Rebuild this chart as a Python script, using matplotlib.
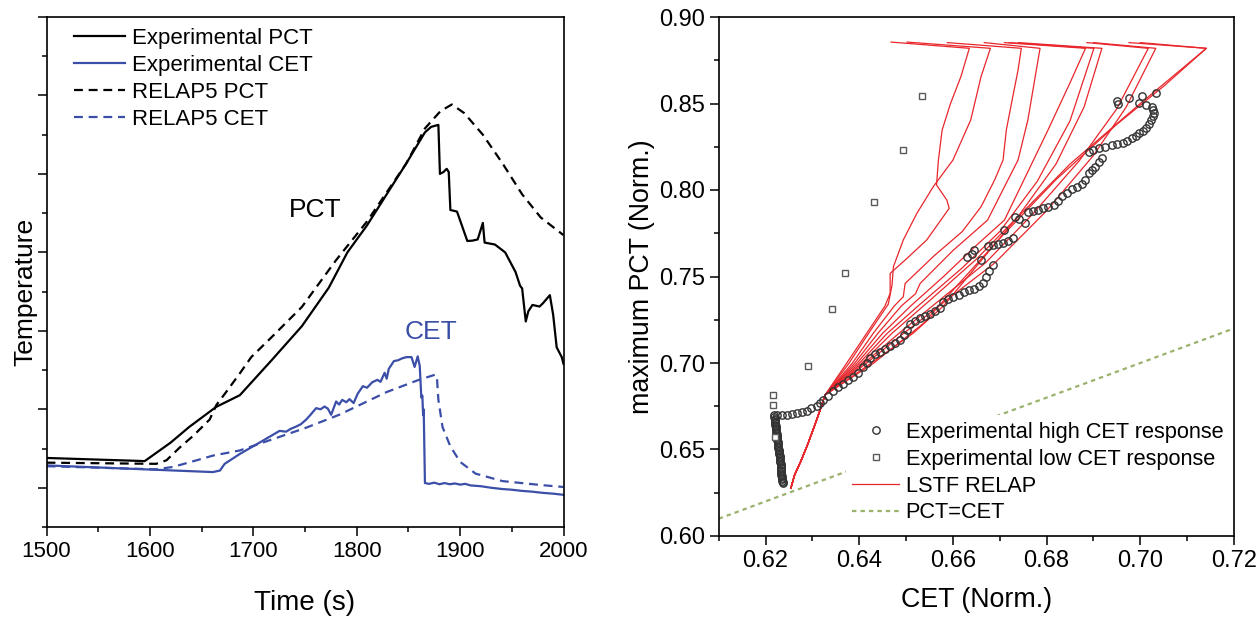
import matplotlib
matplotlib.use("Agg")
import matplotlib.pyplot as plt
from matplotlib.ticker import MultipleLocator, NullFormatter

plt.rcParams['font.family'] = ['Liberation Sans', 'DejaVu Sans']

# ---------------- Left panel data (time in s, temperature in arbitrary units) ----------------
exp_pct_t = [1500, 1595, 1620, 1638, 1664, 1687, 1717, 1747, 1773, 1791, 1810, 1829, 1848, 1866, 1872, 1879,
             1880.5, 1884, 1887, 1889, 1890.6, 1894, 1897, 1907, 1912, 1917, 1922, 1923.7, 1933.7, 1943.6,
             1953.6, 1958, 1960, 1963.5, 1966, 1970, 1976.8, 1980, 1986.8, 1990, 1993.4, 1998.3, 2000]
exp_pct_v = [1.76, 1.68, 2.15, 2.55, 3.06, 3.36, 4.23, 5.12, 6.10, 7.00, 7.69, 8.48, 9.27, 10.06, 10.20, 10.25,
             9.00, 9.05, 9.13, 9.05, 8.08, 8.06, 8.04, 7.29, 7.30, 7.33, 7.75, 7.25, 7.20, 7.00,
             6.50, 6.15, 6.08, 5.24, 5.50, 5.66, 5.62, 5.70, 5.91, 5.41, 4.58, 4.33, 4.16]

exp_cet_t = [1500, 1661, 1667.8, 1672.3, 1686.8, 1706, 1725.4, 1731.8, 1736, 1741.4, 1746, 1751.2, 1755, 1760.8,
             1765, 1768.9, 1772, 1775.3, 1780.1, 1783, 1786, 1790, 1793, 1797, 1801, 1806, 1810, 1815, 1820,
             1823, 1827, 1829, 1831, 1836, 1840, 1844, 1848, 1853, 1856, 1859,
             1861, 1862.5, 1863.5, 1864.2, 1864.8, 1866, 1870, 1875, 1880, 1885, 1890, 1895, 1900, 1905, 1910,
             1920, 1930, 1940, 1950, 1960, 1970, 1980, 1990, 2000]
exp_cet_v = [1.57, 1.40, 1.44, 1.61, 1.86, 2.15, 2.45, 2.43, 2.50, 2.56, 2.62, 2.74, 2.85, 3.03,
             3.00, 3.07, 3.02, 2.86, 3.20, 3.12, 3.24, 3.18, 3.26, 3.16, 3.40, 3.59, 3.55, 3.69, 3.75,
             3.70, 3.93, 3.78, 4.03, 4.23, 4.25, 4.30, 4.33, 4.33, 4.08, 4.35,
             4.10, 3.30, 3.35, 2.85, 3.00, 1.12, 1.10, 1.13, 1.09, 1.12, 1.09, 1.11, 1.08, 1.10, 1.06,
             1.04, 1.00, 0.97, 0.95, 0.92, 0.90, 0.87, 0.85, 0.82]

rel_pct_t = [1500, 1606, 1616, 1629, 1641.7, 1657.8, 1664.3, 1674, 1686.8, 1698, 1717, 1747, 1780, 1810,
             1848, 1866, 1881, 1892, 1904, 1922, 1941, 1960, 1978, 2000]
rel_pct_v = [1.64, 1.61, 1.70, 2.03, 2.32, 2.74, 3.11, 3.45, 3.91, 4.33, 4.82, 5.61, 6.80, 7.79,
             9.27, 10.16, 10.60, 10.77, 10.55, 10.00, 9.27, 8.48, 7.89, 7.44]

rel_cet_t = [1500, 1606, 1622, 1638.5, 1661, 1686.8, 1719, 1751, 1783, 1829, 1859, 1875.6, 1877.5, 1879,
             1883, 1890.5, 1900, 1915, 1941, 1978, 2000]
rel_cet_v = [1.55, 1.47, 1.53, 1.65, 1.82, 1.95, 2.24, 2.53, 2.86, 3.44, 3.74, 3.88, 3.85, 3.24,
             2.55, 2.06, 1.66, 1.36, 1.17, 1.07, 1.02]

left_xticks = [1500, 1600, 1700, 1800, 1900, 2000]

# ---------------- Right panel data (normalised) ----------------
high_cet_x = [0.6219, 0.6219, 0.6220, 0.6220, 0.6221, 0.6221, 0.6221, 0.6222, 0.6222, 0.6223, 0.6223, 0.6223,
              0.6224, 0.6224, 0.6225, 0.6225, 0.6225, 0.6226, 0.6226, 0.6227, 0.6227, 0.6227, 0.6228, 0.6228,
              0.6229, 0.6229, 0.6230, 0.6230, 0.6230, 0.6231, 0.6231, 0.6232, 0.6232, 0.6232, 0.6233, 0.6233,
              0.6234, 0.6234, 0.6234, 0.6235, 0.6235, 0.6236, 0.6236, 0.6237, 0.6237,
              0.6224, 0.6235, 0.6245, 0.6256, 0.6267, 0.6278, 0.6288, 0.6298, 0.6309, 0.6316, 0.6323, 0.6333,
              0.6345, 0.6355, 0.6366, 0.6377, 0.6387, 0.6398, 0.6409, 0.6416, 0.6423, 0.6433, 0.6444, 0.6455,
              0.6466, 0.6477, 0.6487, 0.6495, 0.6501, 0.6508, 0.6519, 0.6530, 0.6541, 0.6551, 0.6562, 0.6572,
              0.6579, 0.6590, 0.6601, 0.6612, 0.6623, 0.6634, 0.6645, 0.6656, 0.6665, 0.6671, 0.6678, 0.6685,
              0.6631, 0.6646, 0.6660, 0.6640,
              0.6674, 0.6686, 0.6696, 0.6707, 0.6717, 0.6728,
              0.6710, 0.6732, 0.6753, 0.6742,
              0.6760, 0.6771, 0.6782, 0.6793, 0.6804, 0.6815, 0.6825, 0.6832, 0.6843, 0.6854, 0.6865, 0.6875,
              0.6883, 0.6890, 0.6897, 0.6904, 0.6911, 0.6918,
              0.6890, 0.6900, 0.6911, 0.6925, 0.6940, 0.6951, 0.6962, 0.6972, 0.6983, 0.6990, 0.6997, 0.7005,
              0.7012, 0.7018, 0.7023, 0.7027, 0.7030, 0.7028, 0.7026, 0.7012, 0.6997,
              0.7004, 0.6976, 0.6951, 0.6952, 0.7033]
high_cet_y = [0.6697, 0.6688, 0.6679, 0.6670, 0.6661, 0.6652, 0.6643, 0.6634, 0.6625, 0.6616, 0.6607, 0.6598,
              0.6589, 0.6580, 0.6571, 0.6562, 0.6553, 0.6544, 0.6535, 0.6526, 0.6517, 0.6508, 0.6499, 0.6490,
              0.6481, 0.6472, 0.6463, 0.6454, 0.6445, 0.6436, 0.6427, 0.6418, 0.6409, 0.6400, 0.6391, 0.6382,
              0.6373, 0.6364, 0.6355, 0.6346, 0.6337, 0.6328, 0.6319, 0.6313, 0.6308,
              0.6697, 0.6699, 0.6700, 0.6705, 0.6712, 0.6718, 0.6725, 0.6737, 0.6751, 0.6768, 0.6786, 0.6812,
              0.6840, 0.6860, 0.6880, 0.6900, 0.6920, 0.6945, 0.6975, 0.7000, 0.7030, 0.7050, 0.7065, 0.7080,
              0.7098, 0.7115, 0.7135, 0.7160, 0.7190, 0.7225, 0.7245, 0.7258, 0.7270, 0.7285, 0.7300, 0.7320,
              0.7350, 0.7370, 0.7383, 0.7395, 0.7410, 0.7420, 0.7430, 0.7445, 0.7465, 0.7495, 0.7530, 0.7565,
              0.7615, 0.7653, 0.7595, 0.7630,
              0.7676, 0.7680, 0.7685, 0.7695, 0.7705, 0.7720,
              0.7769, 0.7846, 0.7807, 0.7830,
              0.7875, 0.7880, 0.7886, 0.7895, 0.7903, 0.7915, 0.7935, 0.7965, 0.7985, 0.8005, 0.8020, 0.8032,
              0.8058, 0.8096, 0.8115, 0.8135, 0.8160, 0.8183,
              0.8221, 0.8230, 0.8240, 0.8250, 0.8260, 0.8265, 0.8270, 0.8285, 0.8298, 0.8312, 0.8327, 0.8342,
              0.8356, 0.8380, 0.8405, 0.8425, 0.8443, 0.8462, 0.8481, 0.8492, 0.8501,
              0.8543, 0.8530, 0.8516, 0.8500, 0.8559]

low_cet_x = [0.6216, 0.6216, 0.6221, 0.6290, 0.6342, 0.6370, 0.6431, 0.6494, 0.6534]
low_cet_y = [0.6816, 0.6760, 0.6574, 0.6980, 0.7313, 0.7523, 0.7929, 0.8234, 0.8542]

# Common lower bundle of the RELAP5 (LSTF) curves
relap_base_x = [0.6254, 0.6262, 0.6275, 0.6290, 0.6305, 0.6318, 0.6327]
relap_base_y = [0.6276, 0.6353, 0.6430, 0.6530, 0.6640, 0.6740, 0.6815]

# Upper (fanned-out) part of each RELAP5 curve
relap_x = [
    [0.6373, 0.6416, 0.6455, 0.6466, 0.6466, 0.6500, 0.6544, 0.6592, 0.6587, 0.6565, 0.6569, 0.6577, 0.6595, 0.6617, 0.6635, 0.6468],
    [0.6378, 0.6420, 0.6462, 0.6470, 0.6473, 0.6494, 0.6523, 0.6558, 0.6600, 0.6638, 0.6660, 0.6680, 0.6502],
    [0.6385, 0.6430, 0.6475, 0.6494, 0.6498, 0.6560, 0.6620, 0.6660, 0.6689, 0.6707, 0.6714, 0.6725, 0.6739, 0.6746, 0.6588],
    [0.6390, 0.6440, 0.6490, 0.6520, 0.6530, 0.6600, 0.6674, 0.6710, 0.6739, 0.6760, 0.6778, 0.6786, 0.6667],
    [0.6395, 0.6450, 0.6510, 0.6580, 0.6650, 0.6710, 0.6750, 0.6800, 0.6850, 0.6883, 0.6710],
    [0.6400, 0.6460, 0.6530, 0.6620, 0.6700, 0.6780, 0.6850, 0.6901, 0.6720],
    [0.6405, 0.6470, 0.6550, 0.6650, 0.6740, 0.6820, 0.6880, 0.6918, 0.6740],
    [0.6410, 0.6485, 0.6570, 0.6670, 0.6770, 0.6870, 0.6950, 0.7017, 0.6886],
    [0.6415, 0.6495, 0.6580, 0.6690, 0.6800, 0.6900, 0.6970, 0.7033, 0.6900],
    [0.6425, 0.6515, 0.6580, 0.6732, 0.6850, 0.7000, 0.7141, 0.6976],
    [0.6430, 0.6537, 0.6594, 0.6700, 0.6820, 0.6950, 0.7050, 0.7141, 0.7000],
]
relap_y = [
    [0.6998, 0.7172, 0.7330, 0.7403, 0.7518, 0.7600, 0.7711, 0.7894, 0.7942, 0.8029, 0.8173, 0.8347, 0.8501, 0.8655, 0.8819, 0.8855],
    [0.6998, 0.7172, 0.7340, 0.7450, 0.7557, 0.7711, 0.7865, 0.8019, 0.8173, 0.8405, 0.8655, 0.8819, 0.8855],
    [0.6998, 0.7172, 0.7330, 0.7383, 0.7460, 0.7620, 0.7760, 0.7903, 0.8058, 0.8173, 0.8347, 0.8501, 0.8693, 0.8819, 0.8852],
    [0.6998, 0.7172, 0.7330, 0.7400, 0.7460, 0.7650, 0.7826, 0.8019, 0.8173, 0.8405, 0.8693, 0.8819, 0.8852],
    [0.6998, 0.7172, 0.7330, 0.7500, 0.7680, 0.7826, 0.8050, 0.8330, 0.8620, 0.8819, 0.8852],
    [0.6998, 0.7172, 0.7340, 0.7550, 0.7760, 0.8050, 0.8400, 0.8819, 0.8852],
    [0.6998, 0.7172, 0.7360, 0.7600, 0.7850, 0.8150, 0.8480, 0.8819, 0.8852],
    [0.6998, 0.7172, 0.7360, 0.7580, 0.7860, 0.8170, 0.8470, 0.8819, 0.8852],
    [0.6998, 0.7172, 0.7350, 0.7580, 0.7880, 0.8200, 0.8480, 0.8819, 0.8852],
    [0.6998, 0.7172, 0.7330, 0.7826, 0.8150, 0.8500, 0.8819, 0.8852],
    [0.6998, 0.7229, 0.7403, 0.7720, 0.8060, 0.8380, 0.8600, 0.8819, 0.8852],
]

pct_eq_cet = [0.61, 0.72]

# ---------------- Figure ----------------
W, H = 1257, 619
fig = plt.figure(figsize=(W / 100, H / 100), dpi=100)
ax1 = fig.add_axes([46.5 / W, (H - 527) / H, 517 / W, 510 / H])
ax2 = fig.add_axes([718.7 / W, (H - 536) / H, 515.3 / W, 519 / H])

BLUE = '#3b4ea8'
RED = '#e8262b'
GREEN = '#9bb26c'

# Left panel
ax1.plot(exp_pct_t, exp_pct_v, color='black', lw=1.6, label='Experimental PCT')
ax1.plot(exp_cet_t, exp_cet_v, color=BLUE, lw=1.6, label='Experimental CET')
ax1.plot(rel_pct_t, rel_pct_v, color='black', lw=1.6, ls=(0, (4, 2.6)), label='RELAP5 PCT')
ax1.plot(rel_cet_t, rel_cet_v, color=BLUE, lw=1.6, ls=(0, (4, 2.6)), label='RELAP5 CET')
ax1.text(1760, 8.08, 'PCT', fontsize=19, ha='center', va='center', color='black')
ax1.text(1872, 4.97, 'CET', fontsize=19, ha='center', va='center', color=BLUE)

ax1.set_xlim(1500, 2000)
ax1.set_ylim(0, 13)
ax1.set_xticks(left_xticks)
ax1.xaxis.set_minor_locator(MultipleLocator(50))
ax1.yaxis.set_major_locator(MultipleLocator(2, offset=1))
ax1.yaxis.set_minor_locator(MultipleLocator(1))
ax1.yaxis.set_major_formatter(NullFormatter())
ax1.tick_params(axis='both', which='major', direction='out', length=6.5, width=1.1, labelsize=16)
ax1.tick_params(axis='both', which='minor', direction='out', length=3.5, width=1.1)
ax1.tick_params(top=False, right=False, which='both')
ax1.set_xlabel('Time (s)', fontsize=20, labelpad=20)
ax1.set_ylabel('Temperature', fontsize=19)
ax1.yaxis.set_label_coords(-0.0185, 0.461)
leg1 = ax1.legend(loc='upper left', bbox_to_anchor=(0.032, 1.0), frameon=False, fontsize=16,
                  handlelength=2.3, handletextpad=0.3, labelspacing=0.27, borderpad=0.5, borderaxespad=0)

# Right panel
ax2.plot(pct_eq_cet, pct_eq_cet, color=GREEN, lw=1.6, ls=(0, (2, 1.8)), label='PCT=CET', zorder=1)
for i, (cx, cy) in enumerate(zip(relap_x, relap_y)):
    ax2.plot(relap_base_x + cx, relap_base_y + cy, color=RED, lw=0.9,
             label='LSTF RELAP' if i == 0 else None, zorder=2)
ax2.plot(high_cet_x, high_cet_y, ls='none', marker='o', ms=5.3, mfc='none', mec='#333333', mew=1.0,
         label='Experimental high CET response', zorder=3)
ax2.plot(low_cet_x, low_cet_y, ls='none', marker='s', ms=4.5, mfc='white', mec='#5a5a5a', mew=1.0,
         label='Experimental low CET response', zorder=3)

ax2.set_xlim(0.61, 0.72)
ax2.set_ylim(0.60, 0.90)
ax2.set_xticks([0.62, 0.64, 0.66, 0.68, 0.70, 0.72])
ax2.set_xticklabels(['0.62', '0.64', '0.66', '0.68', '0.70', '0.72'])
ax2.xaxis.set_minor_locator(MultipleLocator(0.01))
ax2.set_yticks([0.60, 0.65, 0.70, 0.75, 0.80, 0.85, 0.90])
ax2.set_yticklabels(['0.60', '0.65', '0.70', '0.75', '0.80', '0.85', '0.90'])
ax2.yaxis.set_minor_locator(MultipleLocator(0.025))
ax2.tick_params(axis='both', which='major', direction='out', length=6.5, width=1.1, labelsize=17)
ax2.tick_params(axis='both', which='minor', direction='out', length=3.5, width=1.1)
ax2.tick_params(top=False, right=False, which='both')
ax2.set_xlabel('CET (Norm.)', fontsize=19.3, labelpad=11)
ax2.set_ylabel('maximum PCT (Norm.)', fontsize=19.3, labelpad=3)

handles, labels = ax2.get_legend_handles_labels()
order = ['Experimental high CET response', 'Experimental low CET response', 'LSTF RELAP', 'PCT=CET']
hmap = dict(zip(labels, handles))
leg2 = ax2.legend([hmap[k] for k in order], order, loc='lower right', bbox_to_anchor=(0.992, 0.0116),
                  fontsize=15.7, frameon=True, facecolor='white', edgecolor='none', framealpha=1,
                  fancybox=False, handlelength=2.15, handletextpad=0.3, labelspacing=0.27,
                  borderpad=0.3, borderaxespad=0)
leg2.set_zorder(5)

for ax in (ax1, ax2):
    for s in ax.spines.values():
        s.set_linewidth(1.2)

fig.savefig('out.png', dpi=100)
